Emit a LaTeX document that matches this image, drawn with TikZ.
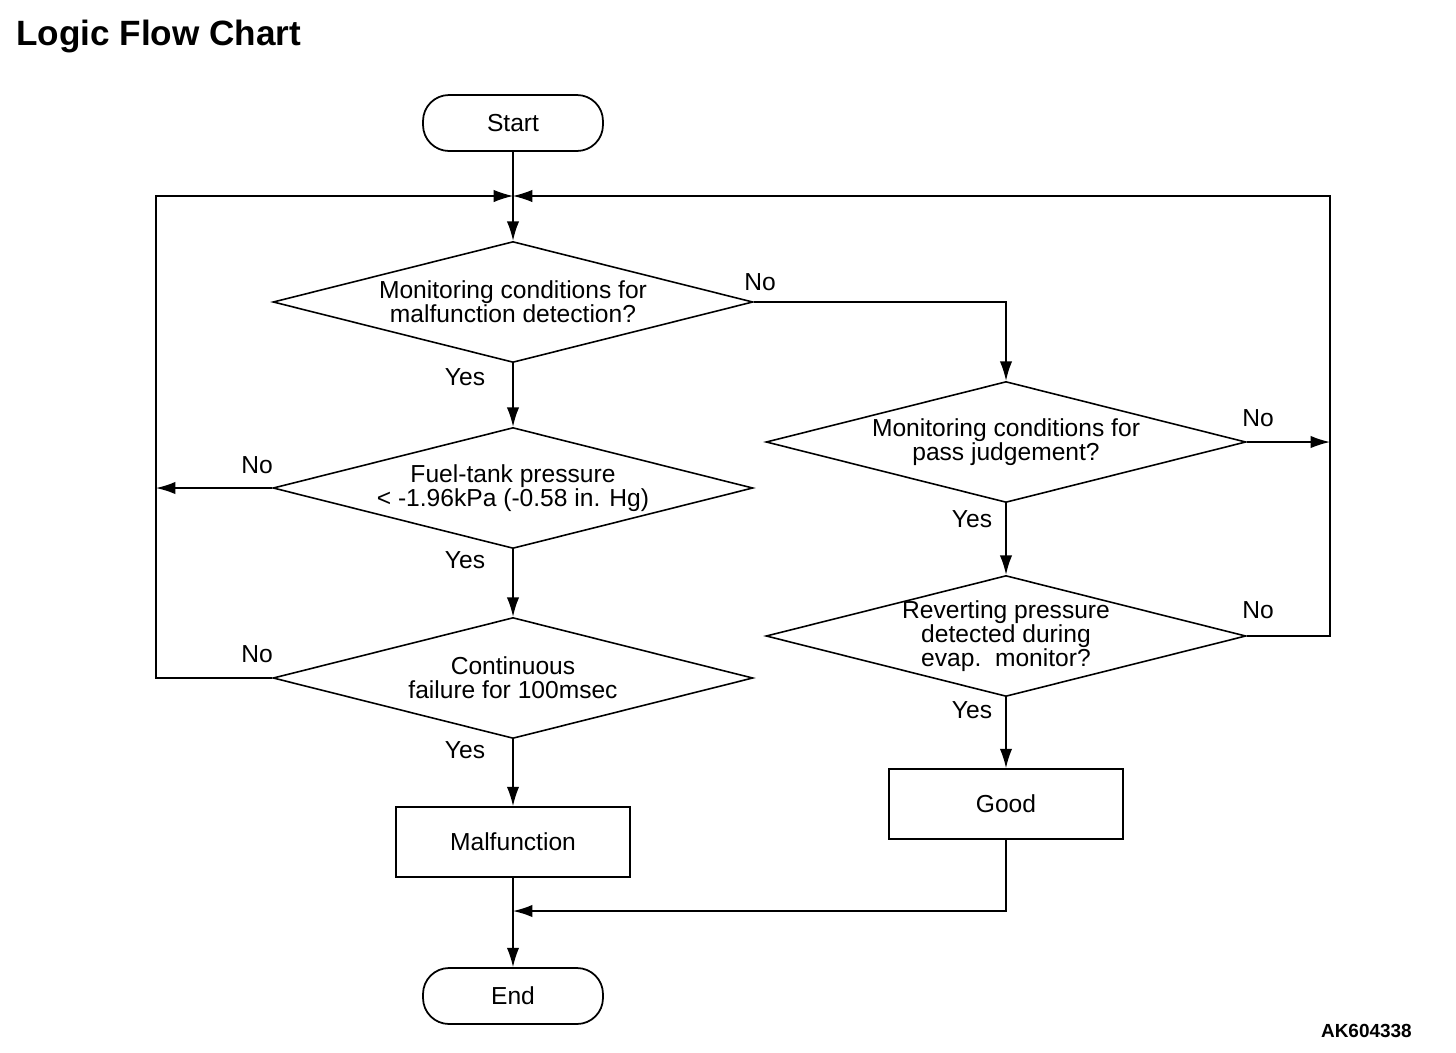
\documentclass[tikz,border=0pt]{standalone}
\usepackage{fontspec}
\setmainfont{Liberation Sans}
\usetikzlibrary{shapes.geometric,arrows.meta}

\begin{document}
\begin{tikzpicture}[x=0.02cm, y=-0.02cm,
    every node/.style={font=\fontsize{14}{13.8}\selectfont},
    decision/.style={draw, diamond, aspect=4, inner sep=0pt, minimum width=9.6cm, minimum height=2.42cm, align=center, line width=0.9pt},
    process/.style={draw, rectangle, minimum width=4.68cm, minimum height=1.4cm, line width=1pt},
    terminal/.style={draw, rectangle, rounded corners=0.52cm, minimum width=3.6cm, minimum height=1.12cm, line width=1pt},
    arr/.style={-{Latex[length=11pt, width=7pt]}, line width=0.8pt},
    loop/.style={line width=0.6pt}]
    \useasboundingbox (0,0) rectangle (1456,1052);

    \node[anchor=base west, font=\fontsize{20}{20}\selectfont\bfseries] (title) at (10,45) {Logic Flow Chart};
    \node[anchor=base east, font=\fontsize{10.8}{10.8}\selectfont\bfseries] (code) at (1418,1037) {AK604338};

    \node[terminal] (start) at (513,123) {Start};
    \node[decision] (D1) at (513,302) {Monitoring conditions for\\malfunction detection?};
    \node[decision] (D2) at (513,488) {Fuel-tank pressure\\< -1.96kPa (-0.58 in. Hg)};
    \node[decision] (D3) at (513,678) {Continuous\\failure for 100msec};
    \node[process] (M) at (513,842) {Malfunction};
    \node[terminal] (E) at (513,996) {End};

    \node[decision] (DA) at (1006,442) {Monitoring conditions for\\pass judgement?};
    \node[decision, inner ysep=-2pt] (DB) at (1006,636) {Reverting pressure\\detected during\\evap.\ \ monitor?};
    \node[process] (G) at (1006,804) {Good};

    \coordinate (J) at (513,196);
    \coordinate (K) at (513,911);
    \coordinate (LL) at (156,678);
    \coordinate (L2) at (156,488);
    \coordinate (RR) at (1330,636);
    \coordinate (R2) at (1330,442);

    % main column
    \draw[arr] (start) -- (D1);
    \draw[arr] (D1) -- (D2);
    \draw[arr] (D2) -- (D3);
    \draw[arr] (D3) -- (M);
    \draw[arr] (M) -- (E);

    % right column
    \draw[arr] (D1.east) -| (DA.north);
    \draw[arr] (DA) -- (DB);
    \draw[arr] (DB) -- (G);
    \draw[arr] (G) |- (K);

    % loops back to the top
    \draw[arr] (D2.west) -- (L2);
    \draw[loop, -{Latex[length=11pt, width=7pt]}] (D3.west) -- (LL) |- (J);
    \draw[arr] (DA.east) -- (R2);
    \draw[loop, -{Latex[length=11pt, width=7pt]}] (DB.east) -- (RR) |- (J);

    % branch labels
    \node (n1) at (760,282) {No};
    \node (y1) at (465,377) {Yes};
    \node (n2) at (257,465) {No};
    \node (y2) at (465,560) {Yes};
    \node (n3) at (257,654) {No};
    \node (y3) at (465,750) {Yes};
    \node (yA) at (972,519) {Yes};
    \node (nA) at (1258,418) {No};
    \node (nB) at (1258,610) {No};
    \node (yB) at (972,710) {Yes};
\end{tikzpicture}
\end{document}
